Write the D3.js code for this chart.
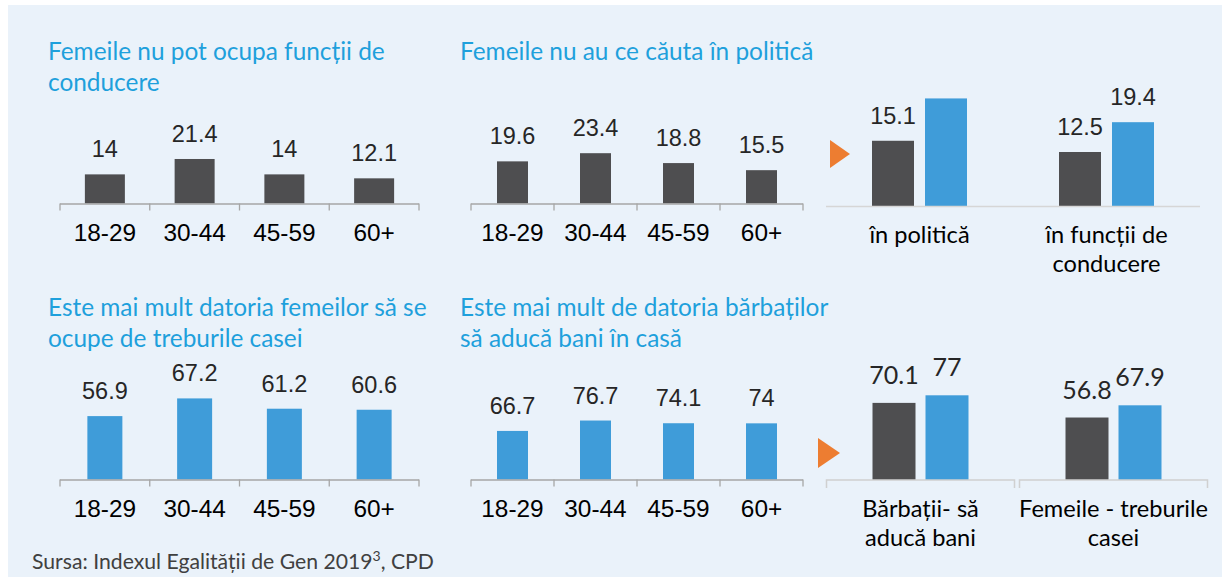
<!DOCTYPE html>
<html>
<head>
    <meta charset="utf-8">
    <title>Indexul Egalității de Gen 2019</title>
    <script src="https://cdn.jsdelivr.net/npm/d3@7/dist/d3.min.js"></script>
    <style>
        body { margin: 0; background: #ffffff; }
        svg { display: block; }
        .title { font-family: Lato, "Open Sans", sans-serif; font-size: 24.4px; fill: #1ea0dc; }
        .val { font-family: "Liberation Sans", Arial, sans-serif; font-size: 23.5px; fill: #262626; }
        .cat { font-family: "Liberation Sans", Arial, sans-serif; font-size: 24.4px; fill: #000; }
        .cat2 { font-family: Lato, "Open Sans", sans-serif; font-size: 23.6px; fill: #000; }
        .val2 { font-family: Lato, "Open Sans", sans-serif; font-size: 25px; fill: #262626; }
        .src { font-family: Lato, "Open Sans", sans-serif; font-size: 21.2px; fill: #404040; }
    </style>
</head>
<body>
<script>
    // date
    var ageGroups = ["18-29", "30-44", "45-59", "60+"];
    var conducere = [14, 21.4, 14, 12.1];
    var politica = [19.6, 23.4, 18.8, 15.5];
    var treburi = [56.9, 67.2, 61.2, 60.6];
    var bani = [66.7, 76.7, 74.1, 74];

    var sumCatsTop = ["în politică", "în funcții de\nconducere"];
    var sumTopDark = [15.1, 12.5];
    var sumTopBlue = [24.9, 19.4];
    var sumTopBlueShown = [false, true];   // prima eticheta nu apare in original

    var sumCatsBot = ["Bărbații- să\naducă bani", "Femeile - treburile\ncasei"];
    var sumBotDark = [70.1, 56.8];
    var sumBotBlue = [77, 67.9];

    var titles = [
        ["Femeile nu pot ocupa funcții de", "conducere"],
        ["Femeile nu au ce căuta în politică"],
        ["Este mai mult datoria femeilor să se", "ocupe de treburile casei"],
        ["Este mai mult de datoria bărbaților", "să aducă bani în casă"]
    ];

    var dark = "#4e4e50";
    var blue = "#3f9cd9";

    var svg = d3.select("body").append("svg")
        .attr("width", 1222)
        .attr("height", 577);

    svg.append("rect")
        .attr("x", 8).attr("y", 5)
        .attr("width", 1214).attr("height", 572)
        .attr("fill", "#eaf2fa");

    function drawTitle(lines, x, y, lh) {
        var t = svg.append("text").attr("class", "title");
        lines.forEach(function (l, i) {
            t.append("tspan").attr("x", x).attr("y", y + i * lh).text(l);
        });
    }

    // grafic pe grupe de varsta
    function ageChart(values, o) {
        var x = d3.scaleBand().domain(ageGroups).range([o.x0, o.x1]);
        var y = d3.scaleLinear().domain(o.dom).range([o.base, o.base - (o.dom[1] - o.dom[0]) * o.k]);
        var g = svg.append("g");

        g.selectAll("rect").data(values).enter().append("rect")
            .attr("x", (d, i) => x(ageGroups[i]) + (x.bandwidth() - o.bw) / 2)
            .attr("y", d => y(d))
            .attr("width", o.bw)
            .attr("height", d => o.base - y(d))
            .attr("fill", o.color);

        g.append("line")
            .attr("x1", o.x0).attr("x2", o.x1)
            .attr("y1", o.base + 0.5).attr("y2", o.base + 0.5)
            .attr("stroke", "#a6a6a6").attr("stroke-width", 1.3);
        var ticks = ageGroups.map(a => x(a)).concat([o.x1]);
        g.selectAll(".tk").data(ticks).enter().append("line")
            .attr("x1", d => d).attr("x2", d => d)
            .attr("y1", o.base).attr("y2", o.base + 7)
            .attr("stroke", "#a6a6a6").attr("stroke-width", 1.3);

        g.selectAll(".val").data(values).enter().append("text")
            .attr("class", "val")
            .attr("x", (d, i) => x(ageGroups[i]) + x.bandwidth() / 2)
            .attr("y", d => y(d) - 17)
            .attr("text-anchor", "middle")
            .text(d => d);

        g.selectAll(".cat").data(ageGroups).enter().append("text")
            .attr("class", "cat")
            .attr("x", d => x(d) + x.bandwidth() / 2)
            .attr("y", o.base + 37)
            .attr("text-anchor", "middle")
            .text(d => d);
    }

    // grafic comparativ (2 grupe x 2 bare)
    function pairChart(cats, darkV, blueV, o) {
        var x = d3.scaleBand().domain(cats).range([o.x0, o.x1]);
        var y = d3.scaleLinear().domain([0, 100]).range([o.base, o.base - 100 * o.k]);
        var g = svg.append("g");
        var c = d => x(d) + x.bandwidth() / 2;

        g.selectAll(".d").data(darkV).enter().append("rect")
            .attr("x", (d, i) => c(cats[i]) - o.gap / 2 - o.bw)
            .attr("y", d => y(d))
            .attr("width", o.bw)
            .attr("height", d => o.base - y(d))
            .attr("fill", dark);
        g.selectAll(".b").data(blueV).enter().append("rect")
            .attr("x", (d, i) => c(cats[i]) + o.gap / 2)
            .attr("y", d => y(d))
            .attr("width", o.bw)
            .attr("height", d => o.base - y(d))
            .attr("fill", blue);

        if (o.split) {
            cats.forEach(function (k) {
                var a = x(k) + o.inset, b = x(k) + x.bandwidth() - o.inset;
                g.append("path")
                    .attr("d", "M" + a + "," + (o.base + 8) + "V" + o.base + "H" + b + "V" + (o.base + 8))
                    .attr("fill", "none").attr("stroke", "#d0d0d0").attr("stroke-width", 1.5);
            });
        } else {
            g.append("line")
                .attr("x1", o.x0).attr("x2", o.x1)
                .attr("y1", o.base + 0.5).attr("y2", o.base + 0.5)
                .attr("stroke", "#d6d6d6").attr("stroke-width", 1.5);
        }

        g.selectAll(".vd").data(darkV).enter().append("text")
            .attr("class", o.valClass)
            .attr("x", (d, i) => c(cats[i]) - o.gap / 2 - o.bw / 2)
            .attr("y", d => y(d) - o.lab)
            .attr("text-anchor", "middle")
            .text(d => d);
        g.selectAll(".vb").data(blueV).enter().append("text")
            .attr("class", o.valClass)
            .attr("x", (d, i) => c(cats[i]) + o.gap / 2 + o.bw / 2)
            .attr("y", d => y(d) - o.lab)
            .attr("text-anchor", "middle")
            .style("display", (d, i) => (o.shown && !o.shown[i]) ? "none" : null)
            .text(d => d);

        cats.forEach(function (k) {
            var t = g.append("text").attr("class", "cat2").attr("text-anchor", "middle");
            k.split("\n").forEach(function (l, i) {
                t.append("tspan").attr("x", c(k)).attr("y", o.base + 37 + i * 29).text(l);
            });
        });

        // sageata portocalie
        svg.append("path")
            .attr("d", "M" + o.arrow[0] + "," + o.arrow[1] + "l" + o.arrow[2] + "," + o.arrow[3] / 2 + "l" + (-o.arrow[2]) + "," + o.arrow[3] / 2 + "z")
            .attr("fill", "#ed7d31");
    }

    drawTitle(titles[0], 48, 60, 31);
    drawTitle(titles[1], 460, 60, 31);
    drawTitle(titles[2], 48, 316, 31);
    drawTitle(titles[3], 460, 316, 31);

    ageChart(conducere, { x0: 60, x1: 419, base: 203.5, dom: [0, 30], k: 2.08, bw: 40, color: dark });
    ageChart(politica, { x0: 471, x1: 803, base: 203.5, dom: [0, 30], k: 2.15, bw: 31, color: dark });
    ageChart(treburi, { x0: 60, x1: 419, base: 479.5, dom: [20, 80], k: 1.718, bw: 35, color: blue });
    ageChart(bani, { x0: 471, x1: 803, base: 479.5, dom: [20, 80], k: 1.04, bw: 31, color: blue });

    pairChart(sumCatsTop, sumTopDark, sumTopBlue, {
        x0: 826, x1: 1200, base: 206, k: 4.32, bw: 42, gap: 11, lab: 17,
        valClass: "val", shown: sumTopBlueShown, split: false, arrow: [830, 140, 20, 28]
    });
    pairChart(sumCatsBot, sumBotDark, sumBotBlue, {
        x0: 824, x1: 1210, base: 480, k: 1.1, bw: 43, gap: 10, lab: 19,
        valClass: "val2", split: true, inset: 2.5, arrow: [818, 438, 22, 30]
    });

    var src = svg.append("text").attr("class", "src").attr("x", 32).attr("y", 568.5);
    src.append("tspan").text("Sursa: Indexul Egalității de Gen 2019");
    src.append("tspan").attr("dy", -8).attr("font-size", 14).text("3");
    src.append("tspan").attr("dy", 8).text(", CPD");
</script>
</body>
</html>
